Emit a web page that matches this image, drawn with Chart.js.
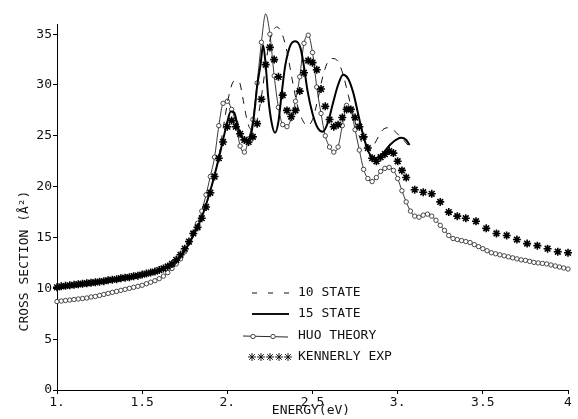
<!DOCTYPE html>
<html><head><meta charset="utf-8">
<script src="https://cdn.jsdelivr.net/npm/chart.js@4.4.1/dist/chart.umd.min.js"></script>
<style>html,body{margin:0;padding:0;background:#fff}</style>
</head><body>
<canvas id="c" width="578" height="419"></canvas>
<script>
const FONT = '"DejaVu Sans Mono", "Liberation Mono", monospace';

const xTickValues = [1, 1.5, 2, 2.5, 3, 3.5, 4];
const xTickLabels = ['1.', '1.5', '2.', '2.5', '3.', '3.5', '4'];
const yTickValues = [0, 5, 10, 15, 20, 25, 30, 35];
const yTickLabels = ['0', '5', '10', '15', '20', '25', '30', '35'];
const seriesNames = ['10 STATE', '15 STATE', 'HUO THEORY', 'KENNERLY EXP'];
const xTitle = 'ENERGY(eV)';
const yTitle = 'CROSS SECTION (Å²)';

// 10 STATE (dashed)
const tenEnergy = [1.0,1.1,1.2,1.3,1.4,1.5,1.6,1.65,1.7,1.75,1.8,1.85,1.9,1.95,1.98,2.01,2.04,2.07,2.09,2.11,2.13,2.15,2.17,2.19,2.21,2.23,2.26,2.29,2.32,2.35,2.38,2.41,2.44,2.47,2.50,2.53,2.56,2.59,2.62,2.65,2.68,2.71,2.74,2.77,2.80,2.83,2.86,2.89,2.92,2.95,2.98,3.01,3.04,3.06];
const tenCross = [10.0,10.2,10.4,10.65,10.9,11.2,11.7,12.1,12.7,13.7,15.2,17.0,19.6,23.0,26.2,29.0,30.4,30.3,28.8,27.0,25.8,25.6,26.2,27.8,30.0,32.6,35.0,35.7,35.1,33.3,30.6,28.1,26.6,26.0,26.6,28.5,30.8,32.3,32.6,32.3,31.0,29.0,27.0,25.2,24.0,23.6,24.1,25.0,25.7,25.8,25.5,25.0,24.5,24.1];

// 15 STATE (solid)
const fifteenEnergy = [1.0,1.1,1.2,1.3,1.4,1.5,1.6,1.65,1.7,1.75,1.8,1.85,1.9,1.95,1.975,2.0,2.02,2.04,2.06,2.08,2.11,2.14,2.16,2.175,2.195,2.21,2.225,2.24,2.26,2.28,2.30,2.32,2.34,2.37,2.40,2.43,2.45,2.47,2.50,2.53,2.56,2.59,2.62,2.65,2.68,2.71,2.74,2.77,2.80,2.83,2.86,2.89,2.92,2.96,3.00,3.02,3.05,3.07];
const fifteenCross = [10.0,10.2,10.4,10.65,10.9,11.2,11.7,12.1,12.7,13.7,15.2,17.0,19.6,22.8,24.6,26.4,27.4,27.3,26.0,25.0,24.6,25.2,27.5,29.9,32.0,33.9,32.0,28.8,26.3,25.3,26.4,29.3,31.9,33.9,34.3,33.6,31.8,29.5,27.2,25.8,25.4,26.3,28.2,30.0,31.0,30.6,29.2,27.0,24.9,23.4,22.8,22.9,23.4,24.2,24.7,24.8,24.6,24.1];

// HUO THEORY (circles)
const huoEnergy = [1.000,1.025,1.050,1.075,1.100,1.125,1.150,1.175,1.200,1.225,1.250,1.275,1.300,1.325,1.350,1.375,1.400,1.425,1.450,1.475,1.500,1.525,1.550,1.575,1.600,1.625,1.650,1.675,1.700,1.725,1.750,1.775,1.800,1.825,1.850,1.875,1.900,1.925,1.950,1.975,2.000,2.025,2.050,2.075,2.100,2.125,2.150,2.175,2.200,2.225,2.250,2.275,2.300,2.325,2.350,2.375,2.400,2.425,2.450,2.475,2.500,2.525,2.550,2.575,2.600,2.625,2.650,2.675,2.700,2.725,2.750,2.775,2.800,2.825,2.850,2.875,2.900,2.925,2.950,2.975,3.000,3.025,3.050,3.075,3.100,3.125,3.150,3.175,3.200,3.225,3.250,3.275,3.300,3.325,3.350,3.375,3.400,3.425,3.450,3.475,3.500,3.525,3.550,3.575,3.600,3.625,3.650,3.675,3.700,3.725,3.750,3.775,3.800,3.825,3.850,3.875,3.900,3.925,3.950,3.975,4.000];
const huoCross = [8.7,8.75,8.8,8.85,8.9,8.95,9.0,9.05,9.15,9.2,9.3,9.4,9.5,9.6,9.7,9.8,9.9,10.0,10.1,10.2,10.3,10.45,10.6,10.75,10.95,11.2,11.55,11.95,12.4,12.9,13.6,14.5,15.4,16.4,17.6,19.2,21.0,22.9,26.0,28.2,28.4,27.6,26.3,24.0,23.4,24.7,26.6,30.2,34.2,37.0,35.0,30.9,27.8,26.1,25.9,26.7,28.4,30.8,34.1,34.9,33.2,29.8,27.2,25.0,23.9,23.4,23.9,26.0,28.0,27.6,25.6,23.6,21.7,20.8,20.5,20.9,21.5,21.8,21.9,21.6,20.8,19.6,18.5,17.6,17.1,17.0,17.2,17.3,17.1,16.7,16.2,15.7,15.2,14.9,14.8,14.7,14.6,14.5,14.3,14.1,13.9,13.7,13.5,13.4,13.3,13.2,13.1,13.0,12.9,12.8,12.75,12.65,12.55,12.5,12.45,12.4,12.3,12.2,12.1,12.0,11.9];

// KENNERLY EXP (asterisks)
const kenEnergy = [1.000,1.025,1.050,1.075,1.100,1.125,1.150,1.175,1.200,1.225,1.250,1.275,1.300,1.325,1.350,1.375,1.400,1.425,1.450,1.475,1.500,1.525,1.550,1.575,1.600,1.625,1.650,1.675,1.700,1.725,1.750,1.775,1.800,1.825,1.850,1.875,1.900,1.925,1.950,1.975,2.000,2.025,2.050,2.075,2.100,2.125,2.150,2.175,2.200,2.225,2.250,2.275,2.300,2.325,2.350,2.375,2.400,2.425,2.450,2.475,2.500,2.525,2.550,2.575,2.600,2.625,2.650,2.675,2.700,2.725,2.750,2.775,2.800,2.825,2.850,2.875,2.900,2.925,2.950,2.975,3.000,3.025,3.05,3.10,3.15,3.20,3.25,3.30,3.35,3.40,3.46,3.52,3.58,3.64,3.70,3.76,3.82,3.88,3.94,4.00];
const kenCross = [10.1,10.2,10.25,10.3,10.35,10.4,10.45,10.5,10.55,10.6,10.65,10.7,10.8,10.85,10.9,11.0,11.05,11.1,11.2,11.25,11.35,11.45,11.55,11.65,11.8,11.95,12.15,12.4,12.8,13.3,13.9,14.6,15.4,16.0,16.9,18.0,19.4,21.0,22.8,24.4,25.9,26.5,25.9,25.2,24.6,24.4,24.9,26.2,28.6,32.0,33.7,32.5,30.8,29.0,27.5,26.9,27.5,29.4,31.2,32.4,32.2,31.5,29.6,27.9,26.6,25.9,26.1,26.8,27.6,27.6,26.8,25.9,24.9,23.8,22.8,22.5,22.9,23.2,23.5,23.3,22.5,21.6,20.9,19.7,19.45,19.3,18.5,17.5,17.1,16.9,16.6,15.9,15.4,15.2,14.8,14.4,14.2,13.9,13.6,13.5];

const pts = (xs, ys) => xs.map((x, i) => ({ x: x, y: ys[i] }));

const datasets = [
  { label: seriesNames[0], data: pts(tenEnergy, tenCross), borderColor: '#111', borderWidth: 1,
    borderDash: [7, 7], pointRadius: 0, cubicInterpolationMode: 'monotone', order: 1 },
  { label: seriesNames[1], data: pts(fifteenEnergy, fifteenCross), borderColor: '#000', borderWidth: 2,
    pointRadius: 0, cubicInterpolationMode: 'monotone', order: 0 },
  { label: seriesNames[2], data: pts(huoEnergy, huoCross), borderColor: '#222', borderWidth: 0.9,
    pointRadius: 2.2, pointBorderWidth: 0.9, pointBorderColor: '#333', pointBackgroundColor: '#fff',
    pointStyle: 'circle', cubicInterpolationMode: 'monotone', order: 3 },
  { label: seriesNames[3], data: pts(kenEnergy, kenCross), showLine: false, borderColor: '#000',
    pointStyle: 'star', pointRadius: 4, pointBorderWidth: 1.6, pointBorderColor: '#000', order: 2 }
];

const annotate = {
  id: 'annotate',
  afterDraw(chart) {
    const ctx = chart.ctx;
    ctx.save();
    ctx.fillStyle = '#111';
    ctx.strokeStyle = '#111';
    ctx.font = '13px ' + FONT;
    ctx.textAlign = 'center';
    ctx.textBaseline = 'middle';
    ctx.fillText(xTitle, 311, 411);
    ctx.save();
    ctx.translate(25, 261);
    ctx.rotate(-Math.PI / 2);
    ctx.fillText(yTitle, 0, 0);
    ctx.restore();

    // legend
    const rows = [293, 314, 336, 357];
    const textX = 298;
    ctx.textAlign = 'left';
    chart.data.datasets.forEach((ds, i) => {
      const y = rows[i];
      ctx.fillText(ds.label, textX, y);
    });
    // 10 STATE sample
    ctx.lineWidth = 1;
    ctx.setLineDash([5, 11]);
    ctx.beginPath(); ctx.moveTo(252, rows[0]); ctx.lineTo(291, rows[0]); ctx.stroke();
    ctx.setLineDash([]);
    // 15 STATE sample
    ctx.lineWidth = 2;
    ctx.beginPath(); ctx.moveTo(252, rows[1]); ctx.lineTo(289, rows[1]); ctx.stroke();
    // HUO sample
    ctx.lineWidth = 0.9;
    ctx.beginPath(); ctx.moveTo(243, rows[2]); ctx.lineTo(288, rows[2] + 1); ctx.stroke();
    [253, 273].forEach(cx => {
      ctx.beginPath(); ctx.arc(cx, rows[2] + 0.5, 2.2, 0, Math.PI * 2);
      ctx.fillStyle = '#fff'; ctx.fill(); ctx.strokeStyle = '#333'; ctx.stroke();
    });
    // KENNERLY sample
    ctx.strokeStyle = '#000';
    [252, 261, 270, 279, 288].forEach(cx => {
      Chart.helpers.drawPoint(ctx, { pointStyle: 'star', radius: 4, borderWidth: 1.6, rotation: 0 }, cx, rows[3]);
    });
    ctx.restore();
  }
};

new Chart(document.getElementById('c'), {
  type: 'line',
  data: { datasets: datasets },
  plugins: [annotate],
  options: {
    responsive: false,
    animation: false,
    devicePixelRatio: 1,
    layout: { padding: { left: 0, right: 10, top: 24, bottom: 0 } },
    plugins: { legend: { display: false }, tooltip: { enabled: false } },
    scales: {
      x: {
        type: 'linear', min: 1, max: 4,
        afterBuildTicks: s => { s.ticks = xTickValues.map(v => ({ value: v })); },
        afterFit: s => { s.height = 29; },
        ticks: {
          callback: v => { const i = xTickValues.indexOf(v); return i >= 0 ? xTickLabels[i] : ''; },
          font: { family: FONT, size: 13 }, color: '#111', padding: 1, maxRotation: 0, autoSkip: false
        },
        grid: { drawOnChartArea: false, drawTicks: true, tickLength: 4, color: '#000' },
        border: { color: '#000', width: 1 }
      },
      y: {
        type: 'linear', min: 0, max: 36,
        afterBuildTicks: s => { s.ticks = yTickValues.map(v => ({ value: v })); },
        afterFit: s => { s.width = 57; },
        ticks: {
          callback: v => { const i = yTickValues.indexOf(v); return i >= 0 ? yTickLabels[i] : ''; },
          font: { family: FONT, size: 13 }, color: '#111', padding: 1, autoSkip: false
        },
        grid: { drawOnChartArea: false, drawTicks: true, tickLength: 4, color: '#000' },
        border: { color: '#000', width: 1 }
      }
    },
    elements: { line: { fill: false } },
    clip: false
  }
});
</script>
</body></html>
